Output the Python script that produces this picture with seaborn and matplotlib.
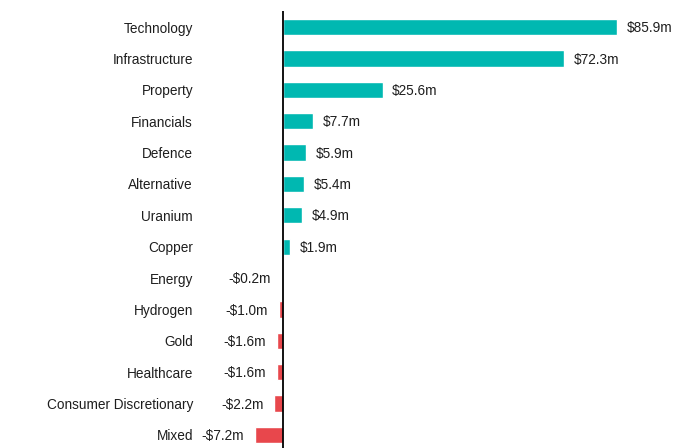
import matplotlib
matplotlib.use("Agg")
import matplotlib.pyplot as plt
import seaborn as sns
import pandas as pd

sectors = ["Technology", "Infrastructure", "Property", "Financials", "Defence",
           "Alternative", "Uranium", "Copper", "Energy", "Hydrogen", "Gold",
           "Healthcare", "Consumer Discretionary", "Mixed"]
flows = [85.9, 72.3, 25.6, 7.7, 5.9, 5.4, 4.9, 1.9, -0.2, -1.0, -1.6, -1.6, -2.2, -7.2]

POS_COLOR = "#00B8B1"
NEG_COLOR = "#E8474C"
TEXT_COLOR = "#1E1E1E"
FONT_SIZE = 9.8

sns.set_theme(style="white")
plt.rcParams["font.family"] = ["Liberation Sans", "DejaVu Sans"]

df = pd.DataFrame({"sector": sectors, "flow": flows})
palette = {s: (POS_COLOR if v >= 0 else NEG_COLOR) for s, v in zip(sectors, flows)}

fig = plt.figure(figsize=(6.88, 4.48), dpi=100)
ax = fig.add_axes([200 / 688, -0.006, 480 / 688, 0.9807])

sns.barplot(data=df, x="flow", y="sector", hue="sector", palette=palette,
            legend=False, width=0.52, saturation=1, ax=ax, orient="h")

ax.set_xlim(-21.35, 102.1)
ax.set_ylim(len(sectors) - 0.5, -0.5)
ax.axvline(0, color="black", linewidth=1.3, zorder=5)

for s in ax.spines.values():
    s.set_visible(False)
ax.set_xticks([])
ax.set_xlabel("")
ax.set_ylabel("")
ax.tick_params(axis="y", length=0, pad=5, labelsize=FONT_SIZE, labelcolor=TEXT_COLOR)

# value labels: right of gains, left of outflows
for i, v in enumerate(flows):
    label = f"${v:.1f}m" if v >= 0 else f"-${abs(v):.1f}m"
    dx = 7 if v >= 0 else -8
    ax.annotate(label, (v, i), xytext=(dx, -0.8), textcoords="offset points",
                ha="left" if v >= 0 else "right", va="center",
                fontsize=FONT_SIZE, color=TEXT_COLOR)

fig.savefig("out.png", dpi=100)
